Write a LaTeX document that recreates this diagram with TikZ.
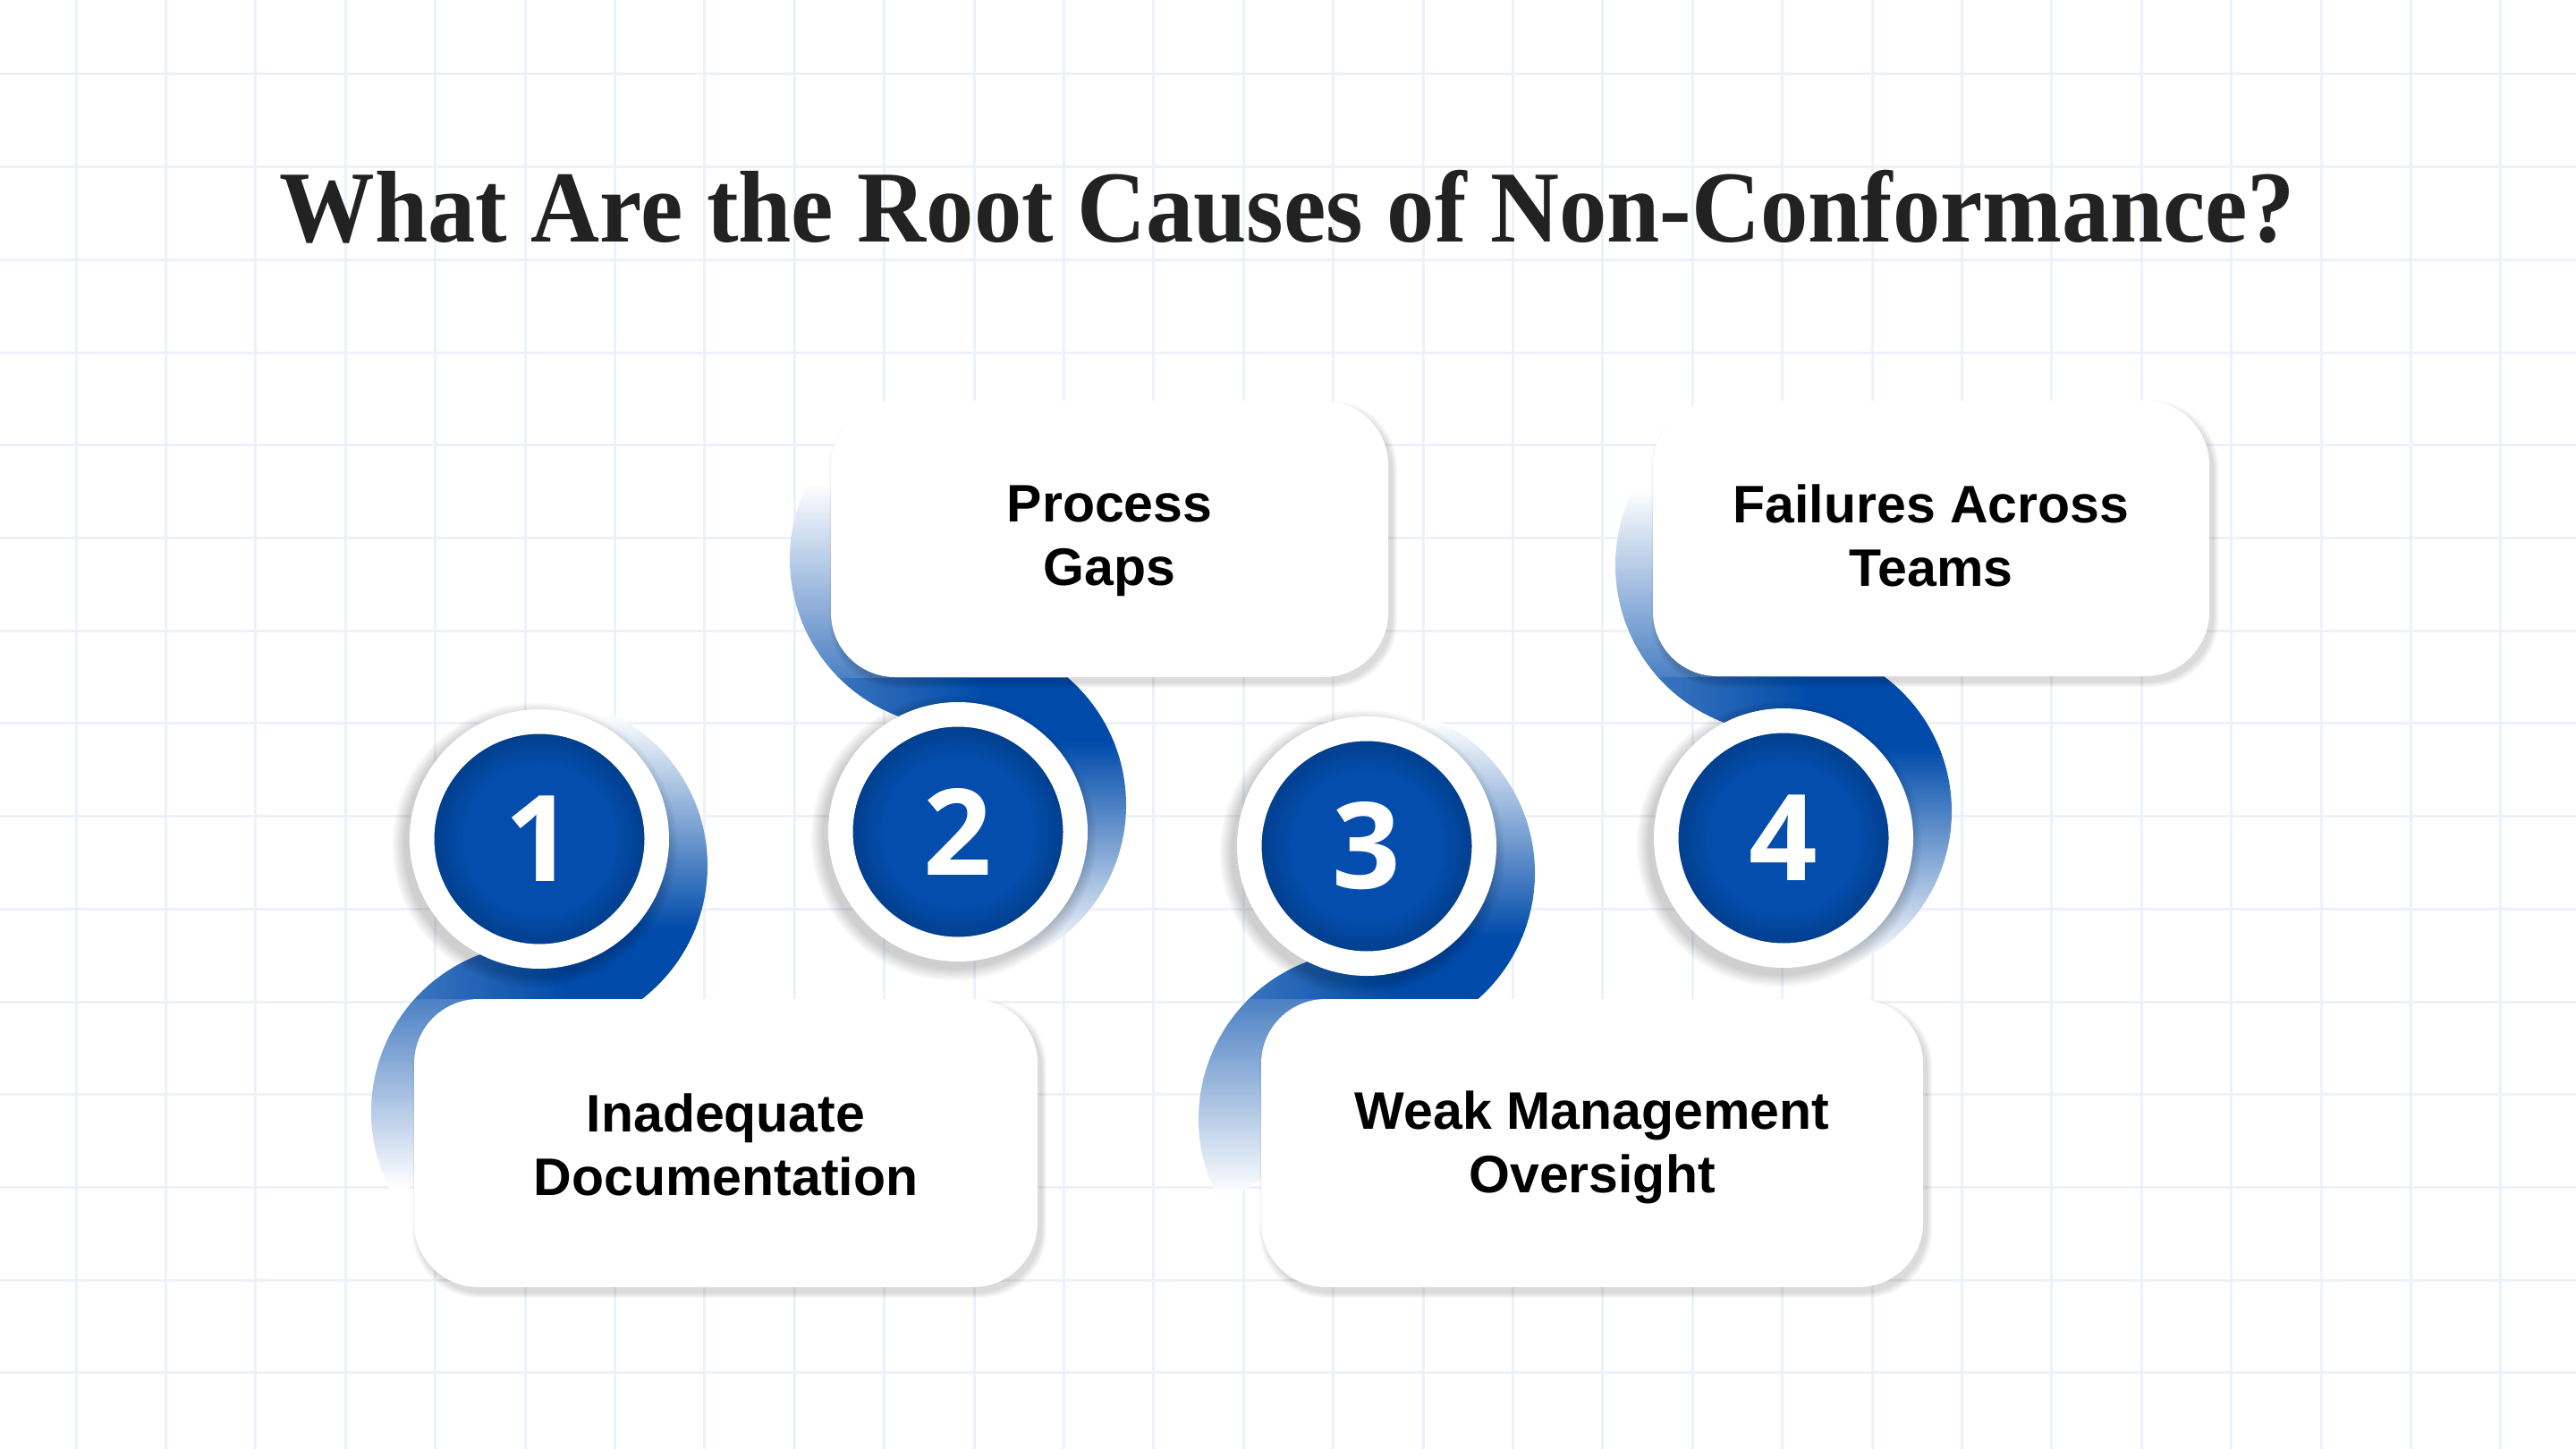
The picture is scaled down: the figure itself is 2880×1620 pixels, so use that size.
\documentclass[tikz,border=0pt]{standalone}
\usepackage{fontspec}
\usepackage{graphicx}
\setmainfont{Liberation Serif}
\newfontfamily\boxfont{Liberation Sans}
\newfontfamily\numfont{Open Sans}
\usetikzlibrary{calc}

\definecolor{gridc}{HTML}{EDF2FA}
\definecolor{blu}{HTML}{004BAA}
\definecolor{bluC}{HTML}{044DAC}
\definecolor{bluD}{HTML}{023F8E}
\definecolor{titlec}{HTML}{222222}

\pgfdeclareradialshading{ballshade}{\pgfpoint{0bp}{0bp}}{color(0bp)=(bluC); color(16bp)=(bluC); color(22.4bp)=(bluD); color(25bp)=(bluD); color(50bp)=(bluD)}

% band wrapping a circle whose box lies below: #1 cx, #2 cy, #3 box top
\newcommand\bandDown[3]{%
\begin{scope}
\clip (#1,#2+30) -- ++(-85:188) arc[start angle=-85,end angle=55,radius=188] -- (#1,#2+305) -- ++(150:188) arc[start angle=150,end angle=270,radius=188] -- cycle;
\shade[top color=white,bottom color=blu] (#1-200,#2-140) rectangle (#1+200,#2+101);
\shade[left color=blu!70!white,right color=blu] (#1-190,#2+100) rectangle (#1+30,#3+1);
\fill[blu] (#1+29,#2+100) rectangle (#1+200,#3+1);
\shade[top color=blu!70!white,bottom color=white] (#1-200,#3) rectangle (#1+200,#2+390);
\end{scope}}
% band wrapping a circle whose box lies above: #1 cx, #2 cy, #3 box bottom
\newcommand\bandUp[3]{%
\begin{scope}
\clip (#1,#2-30) -- ++(85:188) arc[start angle=85,end angle=-55,radius=188] -- (#1,#2-305) -- ++(-150:188) arc[start angle=-150,end angle=-270,radius=188] -- cycle;
\shade[top color=blu,bottom color=white] (#1-200,#2-101) rectangle (#1+200,#2+140);
\shade[left color=blu!70!white,right color=blu] (#1-190,#3-1) rectangle (#1+30,#2-100);
\fill[blu] (#1+29,#3-1) rectangle (#1+200,#2-100);
\shade[top color=white,bottom color=blu!70!white] (#1-200,#2-390) rectangle (#1+200,#3);
\end{scope}}
\newcommand\circshadow[2]{%
\foreach \k in {1,...,8} \fill[black,opacity=0.022] (#1-5,#2+7) circle[radius={145+1.8*\k}];}
\newcommand\boxshadow[4]{%
\foreach \k in {1,...,6} \fill[black,opacity=0.025,rounded corners=37pt] (#1+4-\k,#2+6-\k) rectangle (#3+4+\k,#4+6+\k);}

\tikzset{
  ball/.style={circle, minimum size=131.25pt, inner sep=0pt, draw=white, line width=13.75pt,
    shade, shading=ballshade, text=white, font=\numfont\bfseries\fontsize{67}{67}\selectfont},
  causebox/.style={rectangle, rounded corners=36pt, fill=white, inner sep=0pt, align=center,
    text=black, text depth=0pt, font=\boxfont\bfseries\fontsize{29.5}{35.5}\selectfont},
  gridline/.style={gridc, line width=1.5pt},
}

\begin{document}
\begin{tikzpicture}[x=0.5pt,y=-0.5pt]
\useasboundingbox (0,0) rectangle (2880,1620);
\fill[white] (0,0) rectangle (2880,1620);
% grid
\foreach \i in {0,...,27} \draw[gridline] ({85+100.4*\i},0) -- ({85+100.4*\i},1620);
\foreach \j in {0,...,14} \draw[gridline] (0,{83+103.7*\j}) -- (2880,{83+103.7*\j});

% title
\node[anchor=base, text=titlec, font=\bfseries\fontsize{57}{60}\selectfont] (title) at (1439.5,271)
  {\scalebox{0.935}[1]{What Are the Root Causes of Non-Conformance?}};

% bands
\bandDown{603}{938}{1117}
\bandUp{1071}{930}{757}
\bandDown{1528}{946}{1117}
\bandUp{1994}{937}{756}

% boxes
\boxshadow{463}{1117}{1160}{1439}
\boxshadow{929}{448}{1552}{757}
\boxshadow{1410}{1117}{2150}{1439}
\boxshadow{1848}{448}{2470}{756}
\node[causebox, minimum width=348.5pt, minimum height=161pt, text height=58pt] (b1) at (811.5,1278) {Inadequate\\Documentation};
\node[causebox, minimum width=311.5pt, minimum height=154.5pt, text height=52pt] (b2) at (1240.5,602.5) {Process\\Gaps};
\node[causebox, minimum width=370pt, minimum height=161pt, text height=55pt] (b3) at (1780,1278) {Weak Management\\Oversight};
\node[causebox, minimum width=311pt, minimum height=154pt, text height=53pt] (b4) at (2159,602) {Failures Across\\Teams};

% circles
\circshadow{603}{938}
\circshadow{1071}{930}
\circshadow{1528}{946}
\circshadow{1994}{937}
\node[ball] (c1) at (603,938) {1};
\node[ball] (c2) at (1071,930) {2};
\node[ball] (c3) at (1528,946) {3};
\node[ball] (c4) at (1994,937) {4};
\end{tikzpicture}
\end{document}
